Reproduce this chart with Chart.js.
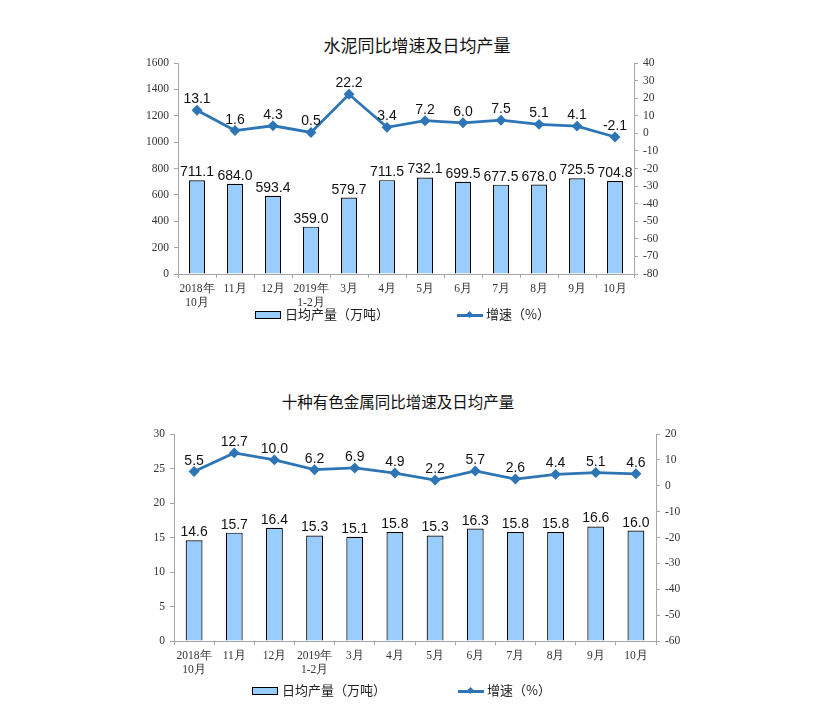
<!DOCTYPE html>
<html>
<head>
<meta charset="utf-8">
<script src="https://cdn.jsdelivr.net/npm/chart.js@4.4.0/dist/chart.umd.min.js"></script>
<style>
  body { margin: 0; background: #fff; width: 837px; height: 716px; position: relative; overflow: hidden; }
  canvas { position: absolute; left: 0; }
  .title { position: absolute; left: 0; text-align: center; font-family: "Noto Sans CJK SC", sans-serif; font-weight: 400; color: #111; }
  .legend { position: absolute; font: 13px "Noto Sans CJK SC", sans-serif; color: #222; white-space: nowrap; }
  .swatch { display: inline-block; width: 24px; height: 6px; background: #99CCFF; border: 1px solid #000; vertical-align: middle; margin-right: 4px; }
  .lineKey { display: inline-block; width: 26px; height: 3px; background: #2E75B6; vertical-align: middle; margin-right: 3px; position: relative; }
  .lineKey::after { content: ""; position: absolute; left: 10px; top: -2px; width: 5px; height: 5px; background: #2E75B6; transform: rotate(45deg); }
</style>
</head>
<body>
<div class="title" style="top:32px; width:834px; font-size:17px;">水泥同比增速及日均产量</div>
<canvas id="cement" width="837" height="340" style="top:0;"></canvas>
<div class="legend" style="left:255px; top:304px;"><span class="swatch"></span>日均产量（万吨）</div>
<div class="legend" style="left:457px; top:304px;"><span class="lineKey"></span>增速（%）</div>

<div class="title" style="top:390px; width:796px; font-size:15.5px;">十种有色金属同比增速及日均产量</div>
<canvas id="metals" width="837" height="356" style="top:360px;"></canvas>
<div class="legend" style="left:252px; top:680px;"><span class="swatch"></span>日均产量（万吨）</div>
<div class="legend" style="left:458px; top:680px;"><span class="lineKey"></span>增速（%）</div>

<script>
// Month labels shared by both charts
var months = [['2018年', '10月'], '11月', '12月', ['2019年', '1-2月'], '3月', '4月', '5月', '6月', '7月', '8月', '9月', '10月'];

// Cement: daily output (10k tons) and growth (%)
var cementOutput = [711.1, 684.0, 593.4, 359.0, 579.7, 711.5, 732.1, 699.5, 677.5, 678.0, 725.5, 704.8];
var cementGrowth = [13.1, 1.6, 4.3, 0.5, 22.2, 3.4, 7.2, 6.0, 7.5, 5.1, 4.1, -2.1];

// Ten non-ferrous metals: daily output (10k tons) and growth (%)
var metalsOutput = [14.6, 15.7, 16.4, 15.3, 15.1, 15.8, 15.3, 16.3, 15.8, 15.8, 16.6, 16.0];
var metalsGrowth = [5.5, 12.7, 10.0, 6.2, 6.9, 4.9, 2.2, 5.7, 2.6, 4.4, 5.1, 4.6];

var barFill = '#99CCFF';
var lineBlue = '#2E75B6';
var axisGray = '#A6A6A6';
var tickFont = { family: '"Liberation Serif", "Times New Roman", serif', size: 11.5 };

// Draws the value above every bar and point
var valueLabels = {
    id: 'valueLabels',
    afterDatasetsDraw: function (chart) {
        var ctx = chart.ctx;
        ctx.save();
        ctx.font = '14px "Liberation Sans", Arial, sans-serif';
        ctx.fillStyle = '#111';
        ctx.textAlign = 'center';
        ctx.textBaseline = 'alphabetic';
        chart.data.datasets.forEach(function (ds, i) {
            var meta = chart.getDatasetMeta(i);
            meta.data.forEach(function (el, j) {
                var gap = ds.type === 'line' ? 7 : 4;
                ctx.fillText(ds.data[j].toFixed(1), el.x, el.y - gap);
            });
        });
        ctx.restore();
    }
};

function fixWidth(w) { return function (scale) { scale.width = w; }; }
function fixHeight(h) { return function (scale) { scale.height = h; }; }
function plain(value) { return String(value); }

function makeChart(id, bars, growth, leftAxis, rightAxis, padding) {
    return new Chart(document.getElementById(id), {
        type: 'bar',
        data: {
            labels: months,
            datasets: [{
                type: 'line',
                label: '增速（%）',
                data: growth,
                yAxisID: 'y1',
                borderColor: lineBlue,
                backgroundColor: lineBlue,
                borderWidth: 2.8,
                pointStyle: 'rectRot',
                pointRadius: 3.5,
                pointHoverRadius: 3.5,
                tension: 0,
                order: 0
            }, {
                type: 'bar',
                label: '日均产量（万吨）',
                data: bars,
                yAxisID: 'y',
                backgroundColor: barFill,
                borderColor: '#000',
                borderWidth: 1.2,
                categoryPercentage: 1,
                barPercentage: 0.42,
                order: 1
            }]
        },
        options: {
            responsive: false,
            animation: false,
            events: [],
            layout: { padding: padding },
            plugins: {
                legend: { display: false },
                tooltip: { enabled: false }
            },
            scales: {
                x: {
                    afterFit: fixHeight(50),
                    border: { color: axisGray, width: 1 },
                    grid: { drawOnChartArea: false, color: axisGray, tickLength: 4 },
                    ticks: { font: tickFont, color: '#333', padding: 4, maxRotation: 0, autoSkip: false }
                },
                y: {
                    position: 'left',
                    min: leftAxis[0],
                    max: leftAxis[1],
                    afterFit: fixWidth(50),
                    border: { color: axisGray, width: 1 },
                    grid: { drawOnChartArea: false, color: axisGray, tickLength: 4 },
                    ticks: { stepSize: leftAxis[2], font: tickFont, color: '#333', padding: 5, callback: plain }
                },
                y1: {
                    position: 'right',
                    min: rightAxis[0],
                    max: rightAxis[1],
                    afterFit: fixWidth(50),
                    border: { color: axisGray, width: 1 },
                    grid: { drawOnChartArea: false, color: axisGray, tickLength: 4 },
                    ticks: { stepSize: rightAxis[2], font: tickFont, color: '#333', padding: 5, callback: plain }
                }
            }
        },
        plugins: [valueLabels]
    });
}

makeChart('cement', cementOutput, cementGrowth, [0, 1600, 200], [-80, 40, 10],
    { left: 128, right: 153, top: 63, bottom: 16 });
makeChart('metals', metalsOutput, metalsGrowth, [0, 30, 5], [-60, 20, 10],
    { left: 124, right: 131, top: 74, bottom: 25 });
</script>
</body>
</html>
